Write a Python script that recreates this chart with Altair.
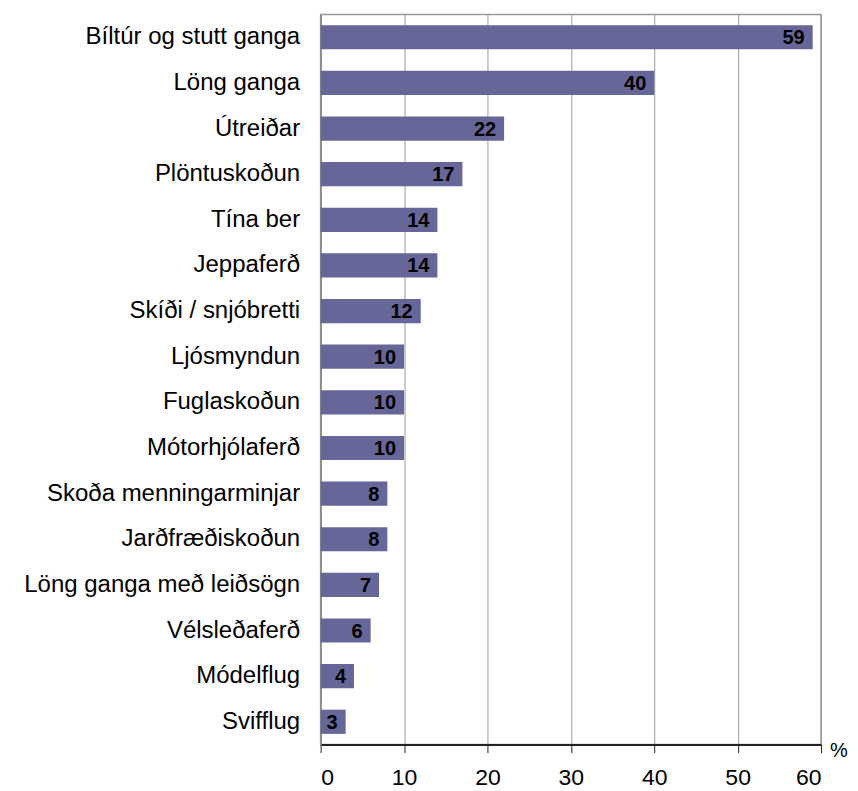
import altair as alt
import pandas as pd

categories = ["Bíltúr og stutt ganga", "Löng ganga", "Útreiðar", "Plöntuskoðun",
              "Tína ber", "Jeppaferð", "Skíði / snjóbretti", "Ljósmyndun",
              "Fuglaskoðun", "Mótorhjólaferð", "Skoða menningarminjar",
              "Jarðfræðiskoðun", "Löng ganga með leiðsögn", "Vélsleðaferð",
              "Módelflug", "Svifflug"]
values = [59, 40, 22, 17, 14, 14, 12, 10, 10, 10, 8, 8, 7, 6, 4, 3]
x_ticks = [0, 10, 20, 30, 40, 50, 60]

df = pd.DataFrame({"cat": categories, "val": values})

FONT = "Liberation Sans"

y_enc = alt.Y("cat:N", sort=categories, title=None,
              scale=alt.Scale(paddingInner=0.47, paddingOuter=0.235),
              axis=alt.Axis(labelFont=FONT, labelFontSize=24, labelColor="#000",
                            labelPadding=21, labelLimit=0, ticks=False,
                            domainColor="#888", domainWidth=1.5))
x_enc = alt.X("val:Q", title=None,
              scale=alt.Scale(domain=[0, 60], nice=False),
              axis=alt.Axis(values=x_ticks, labelFont=FONT, labelFontSize=23,
                            labelColor="#000", labelPadding=14, tickSize=8,
                            tickColor="#222", domainColor="#222", domainWidth=2,
                            grid=True, gridColor="#999", gridWidth=1))

bars = alt.Chart(df).mark_bar(color="#666699").encode(y=y_enc, x=x_enc)

labels = alt.Chart(df).mark_text(align="right", baseline="middle", dx=-8, dy=1,
                                 font=FONT, fontSize=20, fontWeight="bold",
                                 color="#000").encode(
    y=alt.Y("cat:N", sort=categories),
    x="val:Q", text="val:Q")

pct = alt.Chart(pd.DataFrame({"t": ["%"]})).mark_text(
    align="left", baseline="middle", font=FONT, fontSize=20, color="#000").encode(
    x=alt.value(510), y=alt.value(737), text="t:N")

chart = alt.layer(bars, labels, pct).properties(
    width=501, height=731,
    autosize=alt.AutoSizeParams(type="none"),
    padding={"left": 313, "top": 6, "right": 29, "bottom": 50},
).configure_view(stroke="#999", strokeWidth=1.5)

chart.save("out.html", embed_options={"renderer": "svg", "actions": False})
